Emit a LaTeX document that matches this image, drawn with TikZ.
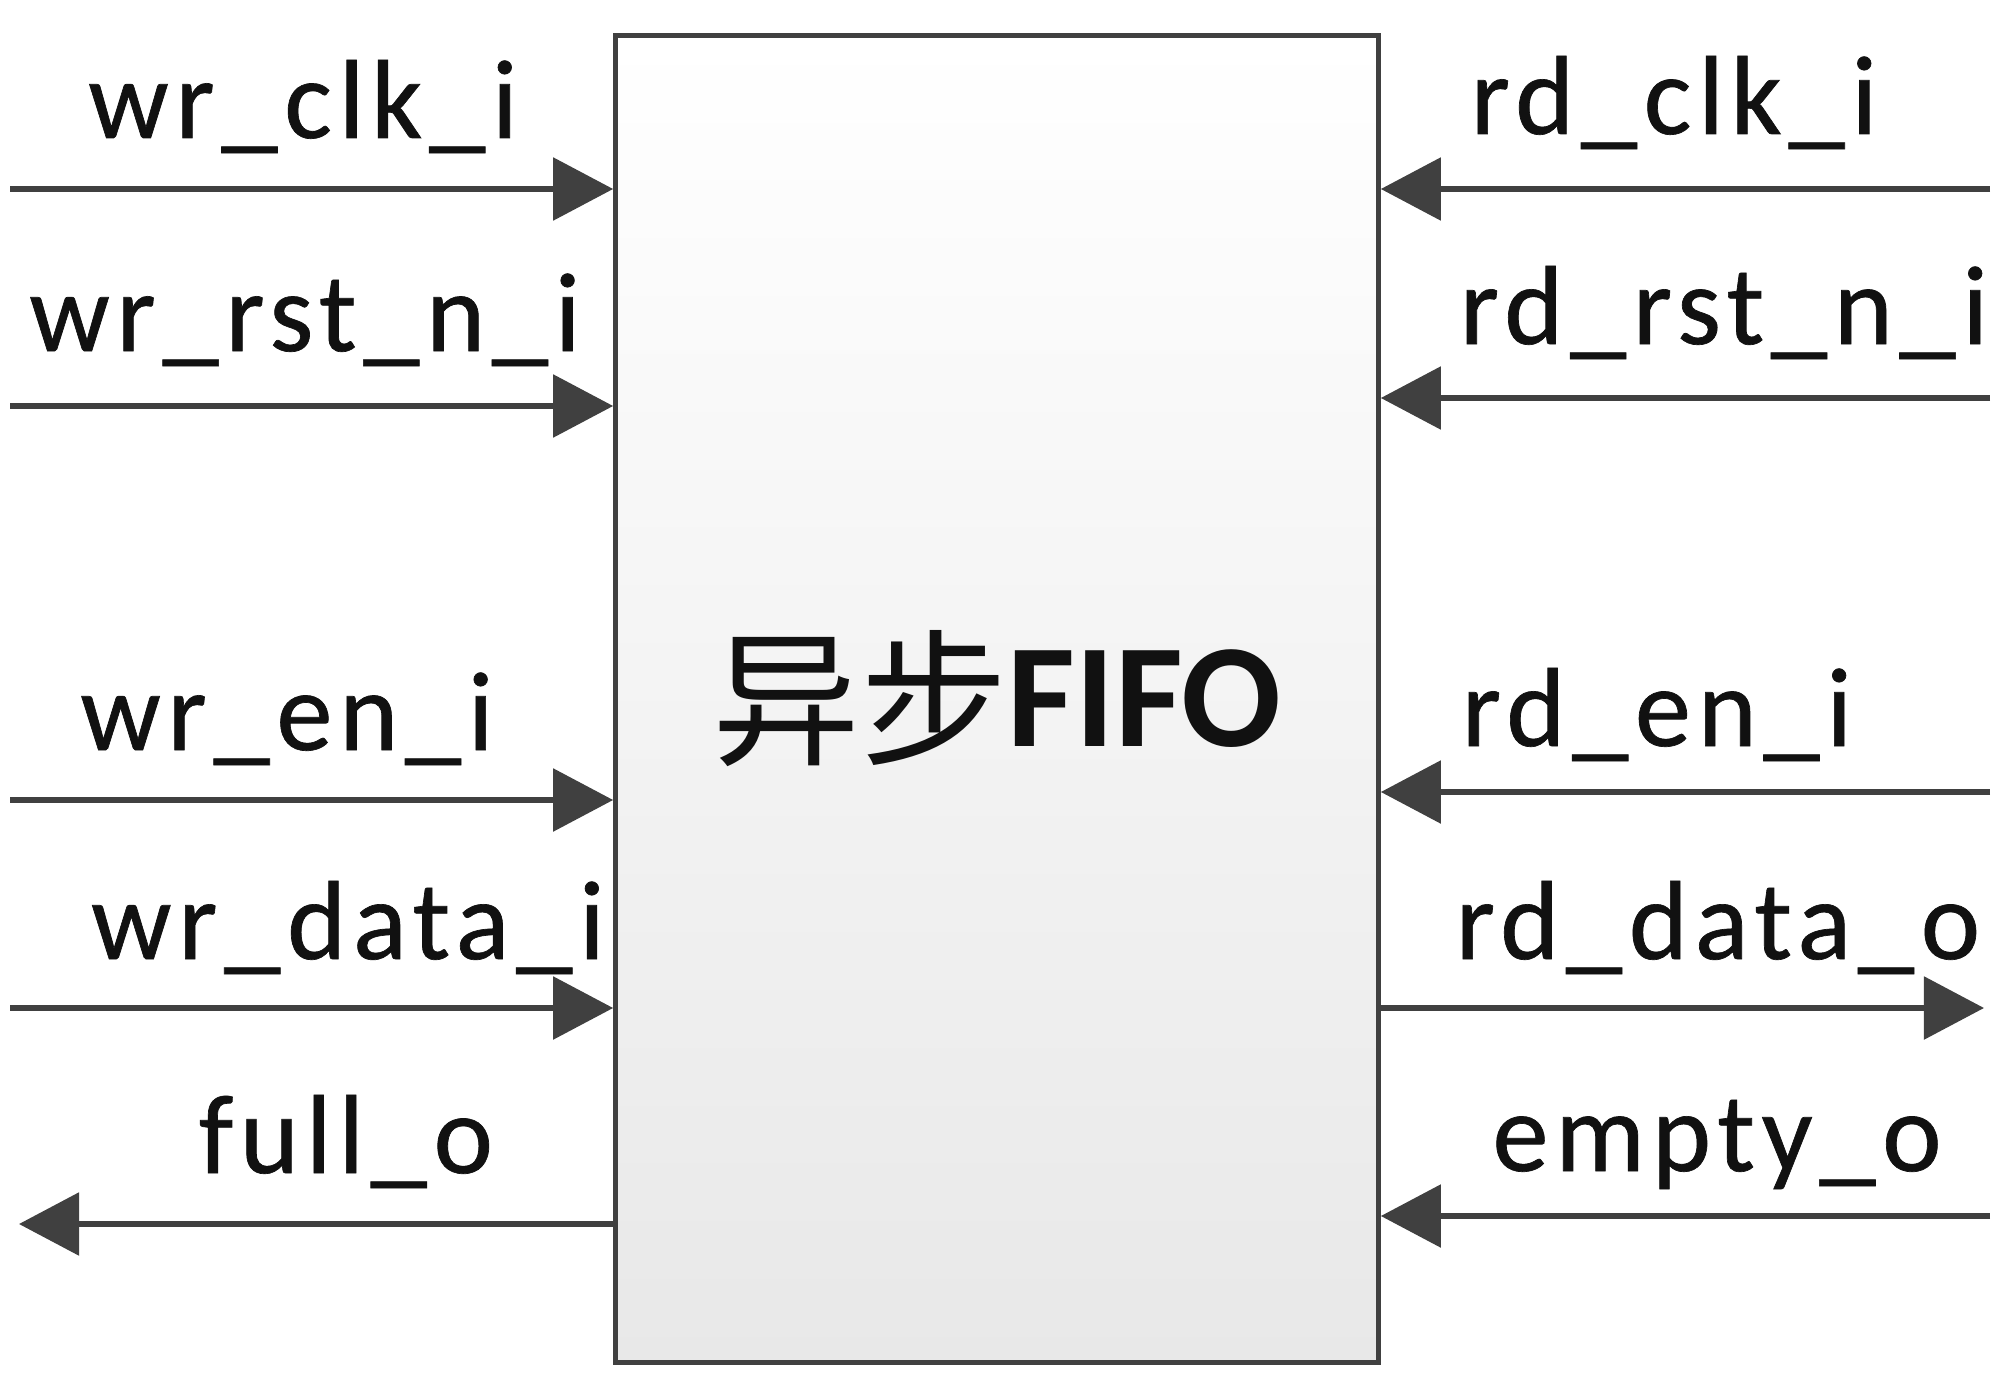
\documentclass[tikz,border=0pt]{standalone}
\usepackage{fontspec}
\setmainfont{Carlito}
\newfontfamily\lbl{Carlito}[LetterSpace=6,FakeBold=0.6]
\newfontfamily\cjk{Noto Sans CJK SC}
\usetikzlibrary{arrows.meta}
\definecolor{edge}{HTML}{404040}
\definecolor{txt}{HTML}{111111}
\tikzset{
  sig/.style={draw=edge, line width=1.6pt, -{Triangle[length=0.6cm,width=0.62cm]}},
  lab/.style={anchor=base, inner sep=0pt, text=txt, font=\lbl\fontsize{32pt}{34pt}\selectfont},
  fifobox/.style={draw=edge, line width=1.5pt, top color=white, bottom color=black!9,
    minimum width=7.62cm, minimum height=13.26cm, inner sep=0pt, text=txt,
    font=\fontsize{42pt}{44pt}\selectfont}
}
\begin{document}
\begin{tikzpicture}[x=0.01cm,y=-0.01cm]
\useasboundingbox (0,0) rectangle (2000,1382);
\fill[white] (0,0) rectangle (2000,1382);
\node[fifobox] (fifo) at (997,699) {{\cjk 异步}\raisebox{2.5pt}{\textbf{FIFO}}};
% outer ends
\coordinate (wclk) at (10,189);
\coordinate (wrst) at (10,406);
\coordinate (wen) at (10,800);
\coordinate (wdata) at (10,1008);
\coordinate (full) at (19,1224);
\coordinate (rclk) at (1990,189);
\coordinate (rrst) at (1990,398);
\coordinate (ren) at (1990,792);
\coordinate (rdata) at (1984,1008);
\coordinate (empty) at (1990,1216);
% connectors
\draw[sig] (wclk) -- (wclk -| fifo.west);
\draw[sig] (wrst) -- (wrst -| fifo.west);
\draw[sig] (wen) -- (wen -| fifo.west);
\draw[sig] (wdata) -- (wdata -| fifo.west);
\draw[sig] (full -| fifo.west) -- (full);
\draw[sig] (rclk) -- (rclk -| fifo.east);
\draw[sig] (rrst) -- (rrst -| fifo.east);
\draw[sig] (ren) -- (ren -| fifo.east);
\draw[sig] (rdata -| fifo.east) -- (rdata);
\draw[sig] (empty) -- (empty -| fifo.east);
% labels
\node[lab] (l1) at (303,138) {wr\_clk\_i};
\node[lab] (l2) at (305,351) {wr\_rst\_n\_i};
\node[lab] (l3) at (287,750) {wr\_en\_i};
\node[lab] (l4) at (348,959) {wr\_data\_i};
\node[lab] (l5) at (346,1173) {full\_o};
\node[lab] (r1) at (1674,134) {rd\_clk\_i};
\node[lab] (r2) at (1724,344) {rd\_rst\_n\_i};
\node[lab] (r3) at (1657,746) {rd\_en\_i};
\node[lab] (r4) at (1718,959) {rd\_data\_o};
\node[lab] (r5) at (1717,1171) {empty\_o};
\end{tikzpicture}
\end{document}
